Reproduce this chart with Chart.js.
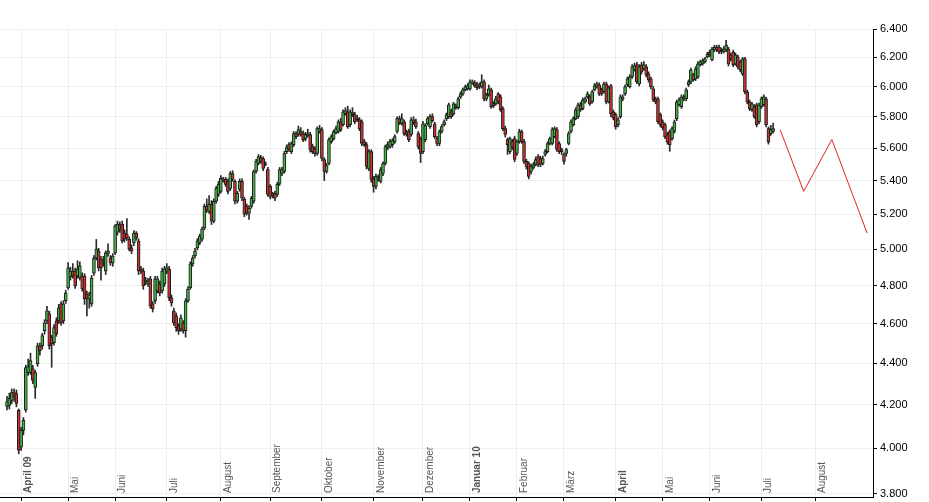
<!DOCTYPE html>
<html>
<head>
<meta charset="utf-8">
<title>Kursverlauf</title>
<script src="https://cdn.jsdelivr.net/npm/chart.js@4.4.1/dist/chart.umd.min.js"></script>
<style>
  html, body { margin: 0; padding: 0; background: #fff; }
  canvas { display: block; }
</style>
</head>
<body>
<canvas id="kurs" width="929" height="502"></canvas>
<script>
// daily candles, one entry per trading day (index 0 = late March 2009)
const opens = [
  4192, 4197, 4220, 4258, 4253, 4174, 4005, 4081, 4174, 4354,
  4354, 4373, 4282, 4398, 4487, 4487, 4563, 4614, 4650, 4528,
  4502, 4614, 4614, 4703, 4614, 4719, 4788, 4847, 4879, 4879,
  4852, 4841, 4852, 4852, 4756, 4729, 4703, 4868, 4951, 4990,
  4945, 4923, 4879, 4973, 4951, 4923, 4979, 5097, 5137, 5143,
  5091, 5085, 5057, 5007, 5035, 5091, 5046, 4890, 4879, 4820,
  4809, 4836, 4703, 4719, 4772, 4809, 4772, 4809, 4879, 4890,
  4735, 4666, 4640, 4589, 4573, 4604, 4563, 4719, 4788, 4918,
  4962, 5007, 5035, 5057, 5120, 5246, 5217, 5258, 5160, 5276,
  5317, 5335, 5407, 5407, 5395, 5353, 5443, 5395, 5276, 5347,
  5395, 5288, 5246, 5206, 5246, 5276, 5455, 5504, 5541, 5535,
  5504, 5467, 5365, 5311, 5323, 5317, 5383, 5443, 5455, 5578,
  5622, 5578, 5622, 5692, 5686, 5705, 5692, 5660, 5680, 5686,
  5610, 5597, 5566, 5705, 5717, 5529, 5455, 5504, 5641, 5660,
  5698, 5705, 5768, 5749, 5820, 5833, 5749, 5827, 5814, 5781,
  5781, 5768, 5641, 5622, 5474, 5578, 5413, 5365, 5419, 5395,
  5443, 5504, 5604, 5610, 5622, 5641, 5705, 5788, 5755, 5768,
  5705, 5705, 5686, 5781, 5768, 5692, 5660, 5578, 5654, 5755,
  5736, 5801, 5755, 5660, 5629, 5705, 5749, 5788, 5801, 5833,
  5820, 5872, 5859, 5931, 5951, 5978, 5985, 5985, 6025, 6025,
  6012, 5998, 5998, 6032, 5918, 5945, 5978, 5872, 5885, 5951,
  5931, 5853, 5724, 5654, 5578, 5641, 5660, 5566, 5641, 5705,
  5641, 5517, 5504, 5455, 5480, 5498, 5547, 5535, 5504, 5560,
  5578, 5629, 5629, 5673, 5717, 5629, 5591, 5560, 5566, 5629,
  5705, 5749, 5788, 5801, 5879, 5853, 5898, 5931, 5931, 5898,
  5978, 5998, 6012, 5978, 5965, 6018, 5898, 6005, 5833, 5814,
  5749, 5801, 5918, 5951, 6012, 5998, 6066, 6113, 6148, 6018,
  6148, 6120, 6134, 6086, 6052, 5985, 5918, 5918, 5814, 5768,
  5749, 5686, 5705, 5660, 5705, 5788, 5879, 5866, 5931, 5918,
  6012, 6032, 6079, 6052, 6066, 6148, 6155, 6168, 6203, 6237,
  6182, 6251, 6272, 6272, 6251, 6237, 6251, 6258, 6216, 6237,
  6155, 6203, 6168, 6086, 6189, 5965, 5898, 5846, 5866, 5879,
  5768, 5866, 5879, 5918, 5724, 5692, 5705
];

const highs = [
  4240, 4255, 4275, 4275, 4270, 4180, 4095, 4140, 4390, 4420,
  4450, 4390, 4365, 4500, 4500, 4550, 4620, 4690, 4665, 4540,
  4595, 4630, 4700, 4715, 4720, 4775, 4925, 4900, 4920, 4895,
  4935, 4930, 4870, 4865, 4770, 4765, 4855, 4965, 5055, 5005,
  4960, 4960, 4990, 5030, 4965, 4975, 5140, 5160, 5155, 5160,
  5110, 5175, 5070, 5025, 5105, 5100, 5060, 4905, 4895, 4845,
  4840, 4850, 4715, 4850, 4850, 4825, 4895, 4905, 4920, 4905,
  4750, 4680, 4655, 4600, 4645, 4615, 4730, 4795, 4930, 4965,
  5005, 5060, 5085, 5125, 5260, 5290, 5310, 5280, 5290, 5365,
  5395, 5430, 5420, 5420, 5410, 5455, 5460, 5405, 5335, 5410,
  5410, 5300, 5260, 5250, 5305, 5465, 5530, 5560, 5555, 5545,
  5515, 5480, 5375, 5330, 5335, 5390, 5480, 5480, 5580, 5620,
  5635, 5640, 5705, 5705, 5740, 5730, 5710, 5700, 5720, 5700,
  5625, 5610, 5735, 5745, 5730, 5540, 5505, 5665, 5685, 5715,
  5740, 5780, 5790, 5845, 5860, 5870, 5845, 5860, 5830, 5810,
  5795, 5780, 5655, 5635, 5590, 5590, 5425, 5440, 5435, 5480,
  5515, 5620, 5640, 5655, 5660, 5685, 5800, 5805, 5820, 5780,
  5715, 5720, 5795, 5800, 5785, 5705, 5670, 5770, 5755, 5800,
  5815, 5820, 5765, 5675, 5715, 5750, 5780, 5825, 5890, 5850,
  5895, 5885, 5930, 5965, 5990, 6010, 6020, 6045, 6045, 6040,
  6030, 6025, 6080, 6045, 5955, 6010, 5990, 5900, 5935, 5960,
  5945, 5865, 5740, 5665, 5670, 5655, 5675, 5650, 5720, 5715,
  5655, 5530, 5515, 5500, 5510, 5545, 5560, 5550, 5550, 5590,
  5640, 5670, 5730, 5735, 5730, 5640, 5600, 5570, 5600, 5705,
  5780, 5800, 5860, 5890, 5895, 5925, 5930, 5965, 5945, 5975,
  6020, 6030, 6025, 5990, 6030, 6030, 6005, 6015, 5845, 5825,
  5795, 5945, 5945, 6010, 6065, 6080, 6150, 6160, 6165, 6150,
  6165, 6170, 6150, 6100, 6065, 6000, 5930, 5930, 5825, 5780,
  5760, 5700, 5715, 5735, 5780, 5910, 5925, 5945, 5945, 5990,
  6045, 6125, 6090, 6135, 6170, 6180, 6190, 6200, 6235, 6250,
  6270, 6285, 6285, 6285, 6265, 6275, 6320, 6270, 6230, 6250,
  6230, 6215, 6180, 6200, 6200, 5975, 5910, 5895, 5880, 5890,
  5890, 5930, 5945, 5930, 5735, 5745, 5760
];

const lows = [
  4175, 4180, 4205, 4215, 4190, 3975, 3990, 4060, 4165, 4340,
  4345, 4300, 4230, 4385, 4440, 4470, 4545, 4600, 4470, 4380,
  4490, 4535, 4600, 4590, 4600, 4705, 4780, 4830, 4840, 4785,
  4840, 4830, 4770, 4700, 4640, 4680, 4690, 4855, 4940, 4880,
  4830, 4905, 4860, 4960, 4910, 4905, 4970, 5080, 5095, 5035,
  5040, 5050, 4990, 4975, 5020, 5050, 4860, 4865, 4780, 4805,
  4795, 4680, 4660, 4705, 4760, 4745, 4760, 4795, 4865, 4720,
  4690, 4590, 4560, 4545, 4560, 4550, 4530, 4710, 4780, 4905,
  4950, 4995, 5025, 5045, 5110, 5210, 5205, 5140, 5150, 5265,
  5305, 5325, 5390, 5365, 5320, 5340, 5395, 5260, 5265, 5335,
  5280, 5185, 5195, 5170, 5235, 5265, 5445, 5495, 5505, 5460,
  5490, 5305, 5290, 5295, 5280, 5305, 5370, 5430, 5445, 5565,
  5580, 5565, 5610, 5660, 5675, 5675, 5640, 5645, 5670, 5575,
  5565, 5550, 5555, 5695, 5520, 5400, 5445, 5495, 5630, 5650,
  5690, 5695, 5705, 5740, 5810, 5725, 5735, 5800, 5755, 5770,
  5710, 5615, 5610, 5470, 5460, 5390, 5330, 5350, 5395, 5385,
  5430, 5495, 5590, 5600, 5605, 5630, 5695, 5750, 5745, 5680,
  5675, 5640, 5675, 5750, 5725, 5595, 5510, 5565, 5640, 5745,
  5725, 5765, 5660, 5615, 5615, 5695, 5740, 5775, 5790, 5790,
  5810, 5850, 5850, 5920, 5940, 5970, 5975, 5975, 6015, 5995,
  5980, 5985, 5990, 5905, 5905, 5935, 5855, 5860, 5875, 5885,
  5835, 5710, 5670, 5560, 5565, 5590, 5515, 5555, 5630, 5630,
  5505, 5470, 5410, 5440, 5470, 5490, 5485, 5485, 5495, 5550,
  5570, 5620, 5620, 5665, 5580, 5565, 5560, 5500, 5550, 5620,
  5695, 5740, 5780, 5790, 5835, 5845, 5890, 5920, 5875, 5890,
  5970, 5990, 5940, 5940, 5955, 5885, 5890, 5800, 5780, 5720,
  5735, 5790, 5905, 5940, 6000, 5990, 6055, 6105, 6020, 6005,
  6085, 6110, 6065, 6030, 5985, 5900, 5885, 5755, 5735, 5715,
  5660, 5625, 5580, 5650, 5695, 5775, 5870, 5855, 5905, 5905,
  6000, 6020, 6035, 6040, 6055, 6140, 6145, 6160, 6195, 6205,
  6175, 6240, 6240, 6225, 6225, 6230, 6240, 6140, 6175, 6135,
  6145, 6120, 6100, 6075, 5950, 5885, 5840, 5835, 5790, 5735,
  5755, 5855, 5870, 5735, 5625, 5680, 5695
];

const closes = [
  4215, 4230, 4258, 4239, 4206, 3991, 4081, 4127, 4378, 4383,
  4413, 4316, 4354, 4487, 4462, 4538, 4604, 4666, 4487, 4497,
  4579, 4548, 4682, 4604, 4703, 4761, 4896, 4879, 4852, 4798,
  4890, 4907, 4782, 4729, 4729, 4750, 4841, 4951, 5001, 4896,
  4896, 4934, 4979, 4990, 4923, 4962, 5131, 5143, 5114, 5046,
  5057, 5063, 5001, 4990, 5091, 5063, 4879, 4879, 4798, 4830,
  4825, 4692, 4677, 4836, 4836, 4761, 4879, 4890, 4896, 4735,
  4708, 4604, 4579, 4563, 4630, 4563, 4719, 4782, 4918, 4951,
  4990, 5046, 5074, 5114, 5246, 5223, 5258, 5160, 5276, 5353,
  5377, 5413, 5401, 5377, 5335, 5443, 5407, 5276, 5323, 5395,
  5294, 5200, 5206, 5234, 5294, 5455, 5517, 5547, 5517, 5474,
  5498, 5317, 5305, 5323, 5294, 5377, 5467, 5467, 5566, 5604,
  5591, 5629, 5692, 5673, 5717, 5686, 5654, 5686, 5692, 5591,
  5578, 5566, 5724, 5724, 5535, 5455, 5492, 5654, 5673, 5705,
  5724, 5768, 5717, 5833, 5840, 5736, 5833, 5814, 5768, 5794,
  5724, 5629, 5622, 5486, 5578, 5407, 5365, 5425, 5407, 5467,
  5504, 5610, 5622, 5641, 5648, 5673, 5788, 5762, 5788, 5692,
  5686, 5654, 5781, 5762, 5736, 5610, 5566, 5755, 5743, 5788,
  5801, 5775, 5673, 5629, 5705, 5736, 5768, 5814, 5879, 5801,
  5885, 5859, 5918, 5951, 5978, 5998, 6005, 6032, 6032, 6005,
  5992, 6012, 6032, 5918, 5945, 5985, 5866, 5885, 5918, 5898,
  5846, 5724, 5686, 5622, 5660, 5604, 5529, 5641, 5705, 5641,
  5517, 5486, 5425, 5486, 5498, 5529, 5498, 5498, 5535, 5578,
  5629, 5660, 5717, 5724, 5591, 5578, 5578, 5517, 5591, 5692,
  5768, 5788, 5846, 5879, 5846, 5911, 5918, 5951, 5885, 5965,
  6005, 6018, 5951, 5951, 6018, 5898, 5991, 5820, 5794, 5736,
  5781, 5931, 5931, 5998, 6052, 6066, 6134, 6141, 6032, 6134,
  6099, 6148, 6079, 6045, 5998, 5911, 5898, 5768, 5749, 5730,
  5673, 5641, 5622, 5724, 5768, 5898, 5911, 5931, 5918, 5978,
  6032, 6113, 6045, 6120, 6155, 6168, 6175, 6189, 6223, 6216,
  6258, 6272, 6251, 6237, 6237, 6258, 6286, 6155, 6189, 6148,
  6216, 6134, 6113, 6189, 5965, 5898, 5853, 5885, 5801, 5749,
  5879, 5918, 5931, 5749, 5641, 5717, 5724
];

// red projection after the last candle
const projDays = [329, 339, 351, 366];
const projValues = [5717, 5335, 5654, 5091];

// first trading day of each month (candle index) and its label
const monthStarts = [6, 26, 46, 68, 91, 112, 134, 156, 177, 197, 217, 237, 259, 279, 299, 321, 344];
const monthLabels = ['April 09', 'Mai', 'Juni', 'Juli', 'August', 'September', 'Oktober', 'November',
  'Dezember', 'Januar 10', 'Februar', 'März', 'April', 'Mai', 'Juni', 'Juli', 'August'];

const yTicks = [3800, 4000, 4200, 4400, 4600, 4800, 5000, 5200, 5400, 5600, 5800, 6000, 6200, 6400];

const days = opens.map((_, i) => i);
const wicks = days.map(i => ({ x: i, y: [lows[i], highs[i]] }));
const bodies = days.map(i => ({ x: i, y: [opens[i], closes[i]] }));
const bodyColors = days.map(i => closes[i] >= opens[i] ? '#46b146' : '#c83434');
const projection = projDays.map((d, i) => ({ x: d, y: projValues[i] }));

const fmt = v => Math.floor(v / 1000) + '.' + String(Math.round(v % 1000)).padStart(3, '0');

const strongLabels = new Set(['April 09', 'Januar 10', 'April']);
const fontStack = '"Liberation Sans", Arial, sans-serif';

// month names are written upright inside the plot, next to each month line
const monthLabelPlugin = {
  id: 'monthLabels',
  afterDraw(chart) {
    const { ctx, chartArea } = chart;
    const x = chart.scales.x;
    ctx.save();
    ctx.fillStyle = '#555';
    ctx.textAlign = 'left';
    ctx.textBaseline = 'top';
    monthLabels.forEach((label, k) => {
      const px = x.getPixelForValue(monthStarts[k]);
      ctx.font = (strongLabels.has(label) ? 'bold ' : '') + '10px ' + fontStack;
      ctx.save();
      ctx.translate(Math.round(px) + 2, chartArea.bottom - 4);
      ctx.rotate(-Math.PI / 2);
      ctx.fillText(label, 0, 0);
      ctx.restore();
    });
    ctx.restore();
  }
};

const ctx = document.getElementById('kurs').getContext('2d');
const chart = new Chart(ctx, {
  type: 'bar',
  data: {
    datasets: [
      {
        type: 'line',
        data: projection,
        borderColor: '#e02424',
        borderWidth: 1,
        pointRadius: 0,
        fill: false,
        order: 0
      },
      {
        data: bodies,
        backgroundColor: bodyColors,
        borderColor: '#1a1a1a',
        borderWidth: 1,
        borderSkipped: false,
        barThickness: 3,
        grouped: false,
        order: 1
      },
      {
        data: wicks,
        backgroundColor: '#2a2a2a',
        barThickness: 1,
        grouped: false,
        order: 2
      }
    ]
  },
  options: {
    responsive: false,
    animation: false,
    devicePixelRatio: 1,
    layout: { padding: { top: 29, left: 0, right: 0, bottom: 0 } },
    plugins: {
      legend: { display: false },
      tooltip: { enabled: false }
    },
    scales: {
      x: {
        type: 'linear',
        position: 'bottom',
        offset: false,
        min: -2.98,
        max: 368.5,
        afterBuildTicks: s => { s.ticks = monthStarts.map(v => ({ value: v })); },
        afterFit: s => { s.height = 5; },
        ticks: { display: false },
        grid: { offset: false, color: '#eeeeee', tickLength: 4, tickColor: '#000' },
        border: { color: '#000', width: 1 }
      },
      y: {
        type: 'logarithmic',
        position: 'right',
        min: 3787.2,
        max: 6400,
        afterBuildTicks: s => { s.ticks = yTicks.map(v => ({ value: v })); },
        afterFit: s => { s.width = 56; },
        ticks: {
          color: '#000',
          padding: 3,
          autoSkip: false,
          font: { family: '"Liberation Sans Narrow", "Liberation Sans", Arial, sans-serif', size: 11, lineHeight: 0.2 },
          callback: v => fmt(v)
        },
        grid: { color: '#eeeeee', tickLength: 4, tickColor: '#000' },
        border: { color: '#000', width: 1 }
      }
    }
  },
  plugins: [monthLabelPlugin]
});
</script>
</body>
</html>
